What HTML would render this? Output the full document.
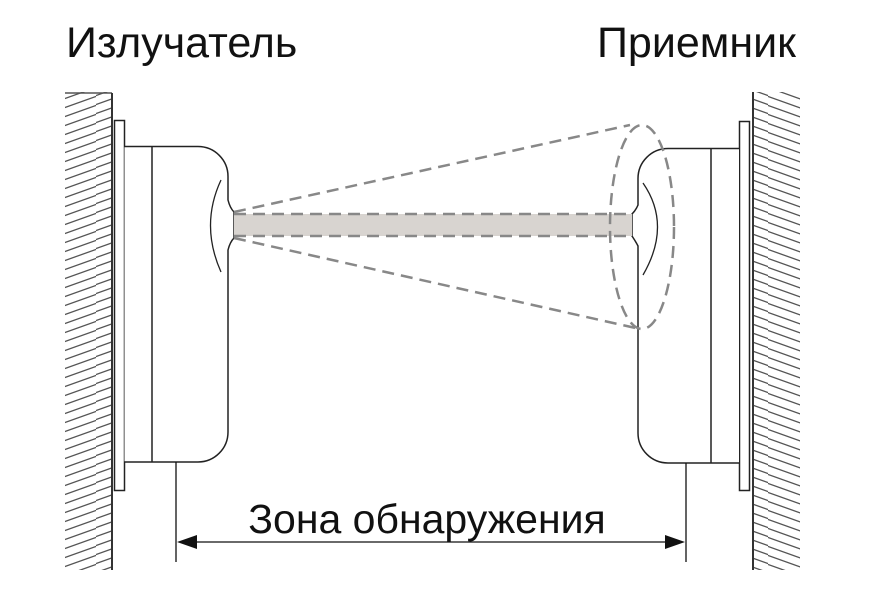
<!DOCTYPE html>
<html><head><meta charset="utf-8"><style>
body{margin:0;background:#fff;}
svg{display:block}
text{font-family:"Liberation Sans",sans-serif;fill:#111}
</style></head><body>
<svg width="869" height="614" viewBox="0 0 869 614">
<defs>
<pattern id="hl" patternUnits="userSpaceOnUse" width="48" height="9">
<line x1="-4" y1="16" x2="52" y2="-4" stroke="#555" stroke-width="1.3"/>
<line x1="-4" y1="7" x2="52" y2="-13" stroke="#555" stroke-width="1.3"/>
<line x1="-4" y1="25" x2="52" y2="5" stroke="#555" stroke-width="1.3"/>
</pattern>
<pattern id="hr" patternUnits="userSpaceOnUse" width="48" height="9">
<line x1="-4" y1="-4" x2="52" y2="16" stroke="#555" stroke-width="1.3"/>
<line x1="-4" y1="-13" x2="52" y2="7" stroke="#555" stroke-width="1.3"/>
<line x1="-4" y1="5" x2="52" y2="25" stroke="#555" stroke-width="1.3"/>
</pattern>
</defs>
<text x="66" y="57" font-size="43">Излучатель</text>
<text x="597" y="57" font-size="43">Приемник</text>
<!-- left wall -->
<rect x="65" y="92" width="47" height="478" fill="url(#hl)"/>
<line x1="65" y1="93" x2="112" y2="93" stroke="#555" stroke-width="1.5"/>
<line x1="112" y1="93" x2="112" y2="570" stroke="#333" stroke-width="2"/>
<rect x="114.5" y="120.5" width="10" height="370" fill="#fff" stroke="#222" stroke-width="1.5"/>
<path d="M124.5 146.5 H198 A30 30 0 0 1 228 176.5 V200 Q230 208 234 212 V238 Q230 242 228 250 V432 A30 30 0 0 1 198 462 H124.5" fill="#fff" stroke="#222" stroke-width="1.5"/>
<line x1="152" y1="147" x2="152" y2="462" stroke="#222" stroke-width="1.5"/>
<path d="M221 180 Q200 225 221 272" fill="none" stroke="#222" stroke-width="1.3"/>
<!-- right wall -->
<rect x="753" y="92" width="47" height="478" fill="url(#hr)"/>
<line x1="753" y1="92" x2="753" y2="570" stroke="#333" stroke-width="2"/>
<rect x="739.5" y="121.5" width="10" height="369" fill="#fff" stroke="#222" stroke-width="1.5"/>
<path d="M739 148.5 H668 A30 30 0 0 0 638 178.5 V205 Q636 210 632 214 V236 Q636 242 638 246 V433 A30 30 0 0 0 668 463 H739" fill="#fff" stroke="#222" stroke-width="1.5"/>
<line x1="711" y1="149" x2="711" y2="463" stroke="#222" stroke-width="1.5"/>
<path d="M643 183 Q672 225 643 275" fill="none" stroke="#222" stroke-width="1.3"/>
<!-- beam -->
<rect x="234" y="214" width="398" height="22" fill="#d8d4d0"/>
<line x1="234" y1="214" x2="632" y2="214" stroke="#888" stroke-width="2.5" stroke-dasharray="12 7"/>
<line x1="234" y1="236" x2="632" y2="236" stroke="#888" stroke-width="2.5" stroke-dasharray="12 7"/>
<line x1="234" y1="212" x2="630" y2="125" stroke="#888" stroke-width="2.5" stroke-dasharray="12 7"/>
<line x1="234" y1="238" x2="640" y2="329" stroke="#888" stroke-width="2.5" stroke-dasharray="12 7"/>
<ellipse cx="642" cy="227" rx="32" ry="102" fill="none" stroke="#888" stroke-width="2.5" stroke-dasharray="12 7"/>
<!-- dimension -->
<line x1="176" y1="462" x2="176" y2="562" stroke="#111" stroke-width="1.3"/>
<line x1="686" y1="463" x2="686" y2="562" stroke="#111" stroke-width="1.3"/>
<line x1="190" y1="542" x2="672" y2="542" stroke="#111" stroke-width="1.3"/>
<polygon points="177,542 197,535 197,549" fill="#111"/>
<polygon points="685,542 665,535 665,549" fill="#111"/>
<text x="427" y="533" font-size="41" text-anchor="middle">Зона обнаружения</text>
</svg>
</body></html>
